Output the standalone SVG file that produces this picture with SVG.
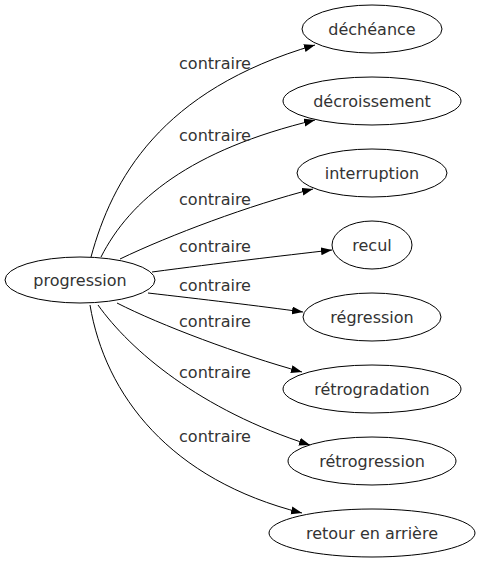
<svg xmlns="http://www.w3.org/2000/svg" width="480" height="563" viewBox="0 0 480 563">
<style>
  .node ellipse { fill: #ffffff; stroke: #000000; stroke-width: 1; }
  .node text { font-family: "DejaVu Sans", sans-serif; font-size: 16px; fill: #333333; text-anchor: middle; }
  .edges path { fill: none; stroke: #000000; stroke-width: 1; marker-end: url(#arrow); }
  .edges text { font-family: "DejaVu Sans", sans-serif; font-size: 16px; fill: #333333; text-anchor: middle; }
</style>
<defs>
  <marker id="arrow" markerUnits="userSpaceOnUse" markerWidth="12" markerHeight="9" refX="11" refY="4" orient="auto">
    <path d="M0,0 L11,4 L0,8 z" fill="#000000"/>
  </marker>
</defs>
<rect width="480" height="563" fill="#ffffff"/>
<g class="edges" id="connectors">
  <path d="M91,257 C112,180 160,90 315,45"/>
  <path d="M101,257 C130,200 190,150 315,120"/>
  <path d="M120,259 C170,235 250,205 313,189"/>
  <path d="M152,272 C220,263 280,256 332,250"/>
  <path d="M148,293 C200,299 260,306 303,312"/>
  <path d="M117,303 C160,325 240,355 302,372"/>
  <path d="M98,305 C130,350 200,410 310,445"/>
  <path d="M90,305 C105,395 170,480 302,513"/>
  <text x="215" y="69">contraire</text>
  <text x="215" y="141">contraire</text>
  <text x="215" y="205">contraire</text>
  <text x="215" y="252">contraire</text>
  <text x="215" y="291">contraire</text>
  <text x="215" y="327">contraire</text>
  <text x="215" y="378">contraire</text>
  <text x="215" y="442">contraire</text>
</g>
<g class="node" id="progression"><ellipse cx="80" cy="280" rx="75" ry="23"/><text x="80" y="286">progression</text></g>
<g class="node" id="decheance"><ellipse cx="372" cy="29" rx="70" ry="24"/><text x="372" y="35">déchéance</text></g>
<g class="node" id="decroissement"><ellipse cx="372" cy="101" rx="89" ry="24"/><text x="372" y="107">décroissement</text></g>
<g class="node" id="interruption"><ellipse cx="372" cy="173" rx="75" ry="24"/><text x="372" y="179">interruption</text></g>
<g class="node" id="recul"><ellipse cx="372" cy="245" rx="40" ry="24"/><text x="372" y="251">recul</text></g>
<g class="node" id="regression"><ellipse cx="372" cy="317" rx="69" ry="24"/><text x="372" y="323">régression</text></g>
<g class="node" id="retrogradation"><ellipse cx="372" cy="389" rx="89" ry="24"/><text x="372" y="395">rétrogradation</text></g>
<g class="node" id="retrogression"><ellipse cx="372" cy="461" rx="84" ry="24"/><text x="372" y="467">rétrogression</text></g>
<g class="node" id="retour"><ellipse cx="372" cy="533" rx="103" ry="24"/><text x="372" y="539">retour en arrière</text></g>
</svg>
